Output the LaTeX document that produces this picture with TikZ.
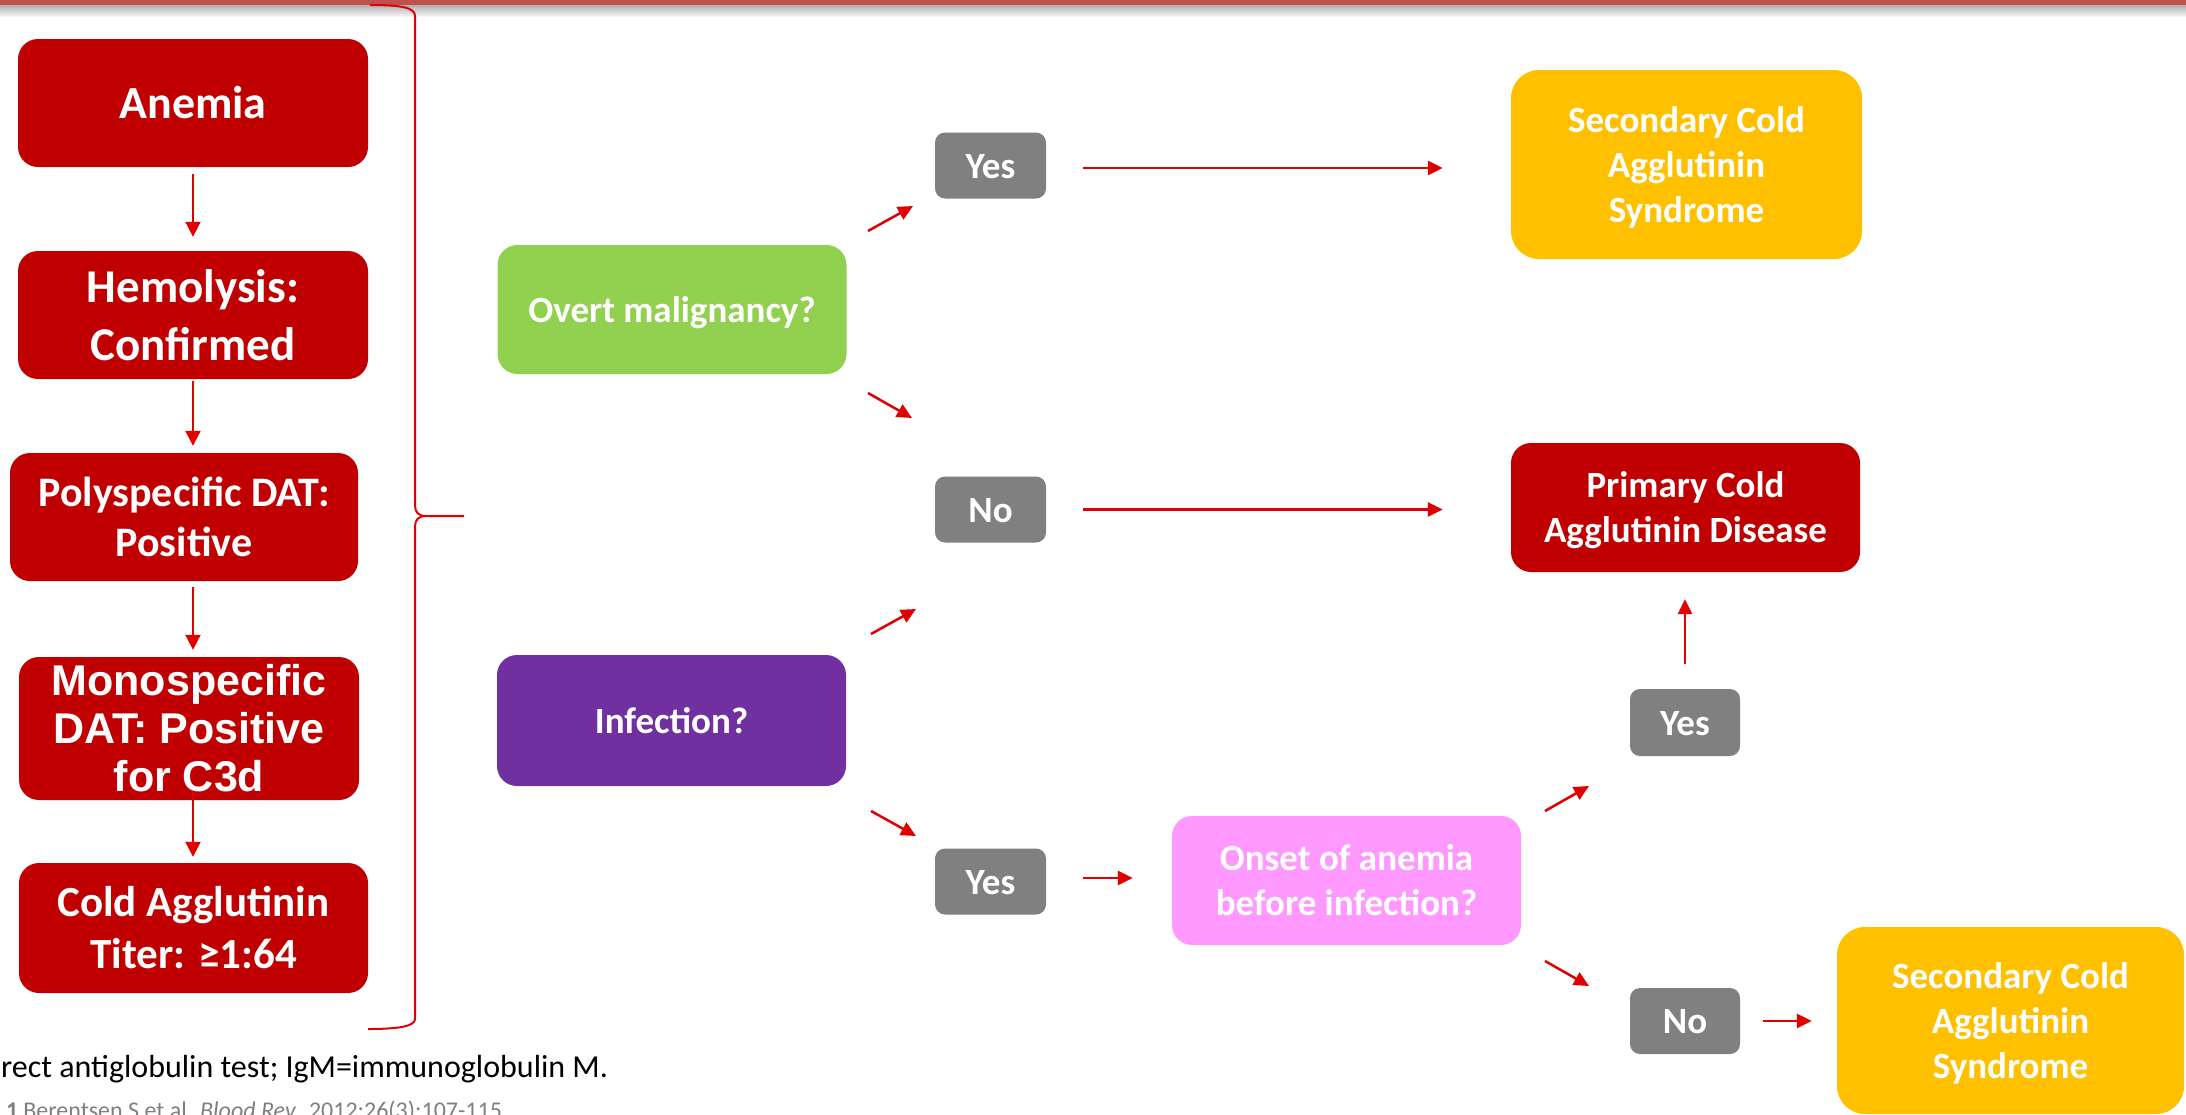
\documentclass[tikz,border=0pt]{standalone}
\usepackage{fontspec}
\setmainfont{Carlito}
\newfontfamily\arialfont{Liberation Sans}
\usetikzlibrary{arrows.meta,calc}
\definecolor{boxred}{HTML}{C00000}
\definecolor{arrred}{HTML}{E00000}
\definecolor{barred}{HTML}{C0504D}
\definecolor{boxgreen}{HTML}{92D050}
\definecolor{boxpurple}{HTML}{7030A0}
\definecolor{boxgray}{HTML}{808080}
\definecolor{boxorange}{HTML}{FFC000}
\definecolor{boxpink}{HTML}{FF99FF}
\definecolor{notegray}{HTML}{7F7F7F}
\newcommand\myfs[2]{\fontsize{#1}{#2}\selectfont}
% line-box struts (PowerPoint-like vertical centring)
\newcommand\pp[1]{\rule{0pt}{0.952em}#1\rule[-0.269em]{0pt}{0pt}}
\begin{document}
\begin{tikzpicture}[x=1pt,y=-1pt,
  box/.style={rounded corners=20pt, inner sep=0pt, align=center, text=white},
  lbox/.style={box, fill=boxred, minimum width=350pt, minimum height=128pt},
  rbox/.style={box, minimum width=349pt, minimum height=129pt, font={\myfs{37}{45}\bfseries}},
  ansbox/.style={box, rounded corners=10pt, fill=boxgray, minimum width=111pt, minimum height=66pt, font={\myfs{37}{45}\bfseries}},
  arr/.style={draw=arrred, line width=2.5pt, -{Triangle[length=15pt,width=14pt]}},
  varr/.style={draw=arrred, line width=2pt, -{Triangle[length=15pt,width=15pt]}},
  bracestyle/.style={draw=arrred, line width=2pt}]
\useasboundingbox (0,0) rectangle (2186,1114);
% top bar
\fill[barred] (0,0) rectangle (2186,5.5);
\shade[top color=black!30, bottom color=black!4] (0,5.5) rectangle (2186,16);

% left column
\node[lbox, font={\myfs{46}{58}\bfseries}] (an) at (193,103) {\pp{Anemia}};
\node[lbox, font={\myfs{47}{58}\bfseries}] (he) at (193,315) {\pp{Hemolysis:\\Confirmed}};
\node[lbox, minimum width=348pt, font={\myfs{42}{50}\bfseries}] (po) at (184,517) {\pp{Polyspecific DAT:\\Positive}};
\node[lbox, minimum width=340pt, minimum height=143pt, font={\arialfont\myfs{43}{48}\bfseries}] (mo) at (189,728.5) {Monospecific\\DAT: Positive\\for C3d};
\node[lbox, minimum width=349pt, minimum height=130pt, font={\myfs{43}{52}\bfseries}] (co) at (193.5,928) {\pp{Cold Agglutinin\\Titer: ≥1:64}};

\draw[varr, shorten <=7pt, shorten >=14pt] (an.south) -- (he.north);
\draw[varr, shorten <=2pt, shorten >=7pt] (he.south) -- (he.south |- po.north);
\draw[varr, shorten <=6pt, shorten >=7pt] (an.south |- po.south) -- (an.south |- mo.north);
\draw[varr, shorten <=-7pt, shorten >=6pt] (an.south |- mo.south) -- (an.south |- co.north);

% brace
\draw[bracestyle] (370,5) .. controls (403,5) and (415,8) .. (415,16) -- (415,505)
  .. controls (415,512) and (418,516) .. (426,516) -- (464,516) -- (426,516)
  .. controls (418,516) and (415,520) .. (415,527) -- (415,1019)
  .. controls (415,1026) and (400,1029) .. (368,1029);

% middle column
\node[rbox, fill=boxgreen] (ov) at (672,309.5) {\pp{Overt malignancy?}};
\node[rbox, fill=boxpurple, minimum height=131pt] (inf) at (671.5,720.5) {\pp{Infection?}};
\node[ansbox] (y1) at (990.5,165.5) {\pp{Yes}};
\node[ansbox] (n1) at (990.5,509.5) {\pp{No}};
\node[ansbox] (y2) at (990.5,881.5) {\pp{Yes}};

% right side
\node[rbox, fill=boxorange, rounded corners=28pt, minimum width=351pt, minimum height=189pt] (s1) at (1686.5,164.5) {\pp{Secondary Cold\\Agglutinin\\Syndrome}};
\node[rbox, fill=boxred] (pr) at (1685.5,507.5) {\pp{Primary Cold\\Agglutinin Disease}};
\node[rbox, fill=boxpink] (on) at (1346.5,880.5) {\pp{Onset of anemia\\before infection?}};
\node[ansbox, minimum width=110pt, minimum height=67pt] (y3) at (1685,722.5) {\pp{Yes}};
\node[ansbox, minimum width=110pt] (n3) at (1685,1021) {\pp{No}};
\node[rbox, fill=boxorange, rounded corners=28pt, minimum width=347pt, minimum height=187pt] (s2) at (2010.5,1020.5) {\pp{Secondary Cold\\Agglutinin\\Syndrome}};

% diagonal arrow end points
\coordinate (a1s) at (868,231); \coordinate (a1e) at (913,206);
\coordinate (a2s) at (868,393); \coordinate (a2e) at (912,418);
\coordinate (a3s) at (871,634); \coordinate (a3e) at (916,609);
\coordinate (a4s) at (871,811); \coordinate (a4e) at (916,836);
\coordinate (a8s) at (1545,811); \coordinate (a8e) at (1589,786);
\coordinate (a9s) at (1545,961); \coordinate (a9e) at (1589,986);
\draw[arr] (a1s) -- (a1e);
\draw[arr] (a2s) -- (a2e);
\draw[arr] (a3s) -- (a3e);
\draw[arr] (a4s) -- (a4e);
\draw[arr] (a8s) -- (a8e);
\draw[arr] (a9s) -- (a9e);

% straight arrows
\draw[arr, shorten <=37pt, shorten >=68pt] ([yshift=-2.5pt]y1.east) -- ([yshift=-2.5pt]y1.east -| s1.west);
\draw[arr, shorten <=37pt, shorten >=68pt] (n1.east) -- (n1.east -| pr.west);
\draw[arr, shorten <=37pt, shorten >=39pt] ([yshift=3.5pt]y2.east) -- ([yshift=3.5pt]y2.east -| on.west);
\draw[arr, shorten <=25pt, shorten >=27pt] (y3.north) -- (y3.north |- pr.south);
\draw[arr, shorten <=23pt, shorten >=25pt] (n3.east) -- (n3.east -| s2.west);

% footnotes
\node[anchor=base west, inner sep=0pt, font=\myfs{32}{38}] (fn1) at (1,1077) {rect antiglobulin test; IgM=immunoglobulin M.};
\node[anchor=base west, inner sep=0pt, text=notegray, font=\myfs{24}{28}] (fn2) at (6,1118) {\textbf{1}\hspace{5pt}Berentsen S et al. \textit{Blood Rev}. 2012;26(3):107-115.};
\end{tikzpicture}
\end{document}
